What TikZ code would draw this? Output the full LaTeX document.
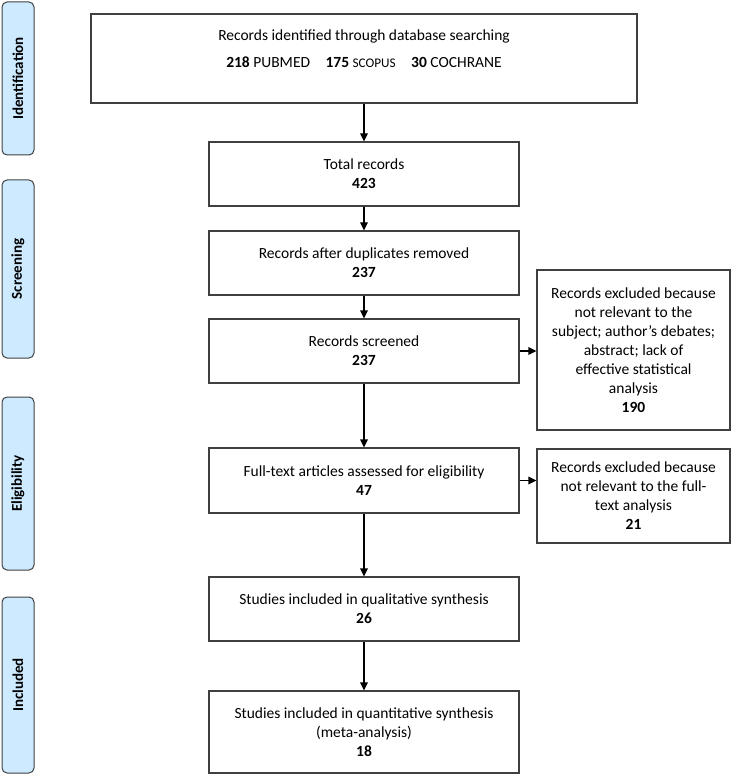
\documentclass[tikz,border=0pt]{standalone}
\usepackage{fontspec}
\setmainfont{Carlito}
\usetikzlibrary{arrows.meta}
\definecolor{sidefill}{RGB}{206,234,255}
\definecolor{edge}{RGB}{64,64,64}
\tikzset{
  box/.style={draw=edge, line width=1.1pt, fill=white, inner sep=0pt, align=center, font=\fontsize{15.5}{19}\selectfont},
  side/.style={draw=edge, line width=1pt, fill=sidefill, rounded corners=5pt, inner sep=0pt, minimum width=32pt},
  sidetext/.style={rotate=90, font=\fontsize{15}{17}\selectfont\bfseries},
  arr/.style={line width=1.1pt, -{Triangle[length=8pt,width=7.5pt]}},
}
\begin{document}
\begin{tikzpicture}[x=1pt,y=-1pt]
\useasboundingbox (0,0) rectangle (731,775);
% side phase boxes
\node[side, minimum height=153pt] (ident) at (18,78.5) {};
\node[sidetext] (identt) at (ident.center) {Identification};
\node[side, minimum height=178pt] (screen) at (18,269) {};
\node[sidetext] (screent) at (screen.center) {Screening};
\node[side, minimum height=173pt] (elig) at (18,483.5) {};
\node[sidetext] (eligt) at (elig.center) {Eligibility};
\node[side, minimum height=176pt] (incl) at (18,685) {};
\node[sidetext] (inclt) at (incl.center) {Included};
% main flow
\node[box, minimum width=546pt, minimum height=89pt] (top) at (364,58.5) {};
\node[align=center, inner sep=0pt, font=\fontsize{15.5}{19}\selectfont] (toptext) at (364,48.5) {Records identified through database searching\\[8pt] \textbf{218} PUBMED\quad \textbf{175} {\fontsize{13.2}{15}\selectfont SCOPUS}\quad \textbf{30} COCHRANE};
\node[box, minimum width=310pt, minimum height=64pt] (total) at (364,174) {Total records\\ \textbf{423}};
\node[box, minimum width=310pt, minimum height=64pt] (dup) at (364,263) {Records after duplicates removed\\ \textbf{237}};
\node[box, minimum width=310pt, minimum height=64pt] (scr) at (364,351) {Records screened\\ \textbf{237}};
\node[box, minimum width=310pt, minimum height=65pt] (full) at (364,480.5) {Full-text articles assessed for eligibility\\ \textbf{47}};
\node[box, minimum width=310pt, minimum height=64pt] (qual) at (364,609) {Studies included in qualitative synthesis\\ \textbf{26}};
\node[box, minimum width=310pt, minimum height=82pt] (quant) at (364,732) {Studies included in quantitative synthesis\\ (meta-analysis)\\ \textbf{18}};
% exclusion boxes
\node[box, minimum width=193pt, minimum height=160pt] (ex1) at (633.5,350) {Records excluded because\\ not relevant to the\\ subject; author’s debates;\\ abstract; lack of\\ effective statistical\\ analysis\\ \textbf{190}};
\node[box, minimum width=193pt, minimum height=94pt] (ex2) at (633.5,496) {Records excluded because\\ not relevant to the full-\\ text analysis\\ \textbf{21}};
% connectors
\draw[arr] (top.south -| total.north) -- (total.north);
\draw[arr] (total) -- (dup);
\draw[arr] (dup) -- (scr);
\draw[arr] (scr) -- (full);
\draw[arr] (full) -- (qual);
\draw[arr] (qual) -- (quant);
\draw[arr] (scr.east) -- (scr.east -| ex1.west);
\draw[arr] (full.east) -- (full.east -| ex2.west);
\end{tikzpicture}
\end{document}
